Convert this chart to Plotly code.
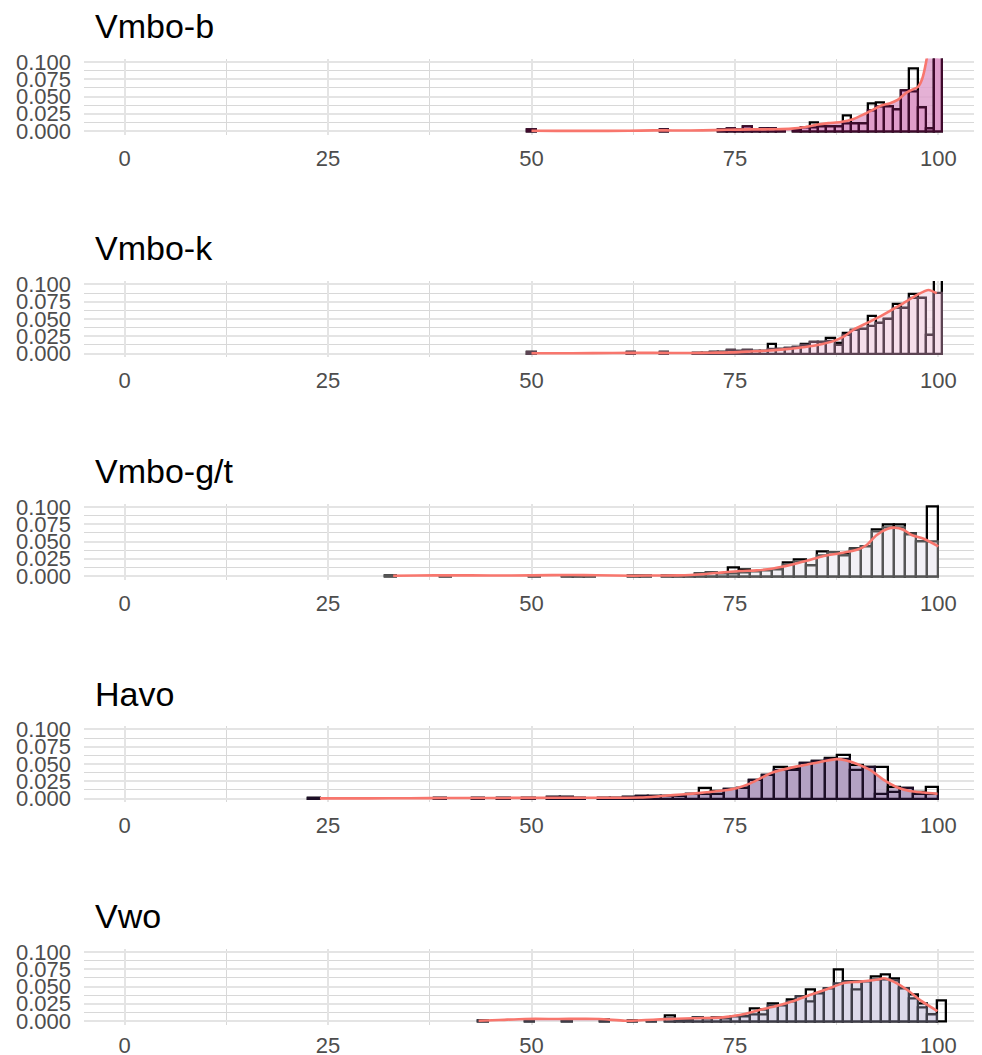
import plotly.graph_objects as go

# ---------------- data ----------------
panel_titles = ["Vmbo-b", "Vmbo-k", "Vmbo-g/t", "Havo", "Vwo"]

# histogram bins: left edge of first bin and bin width, 50 bins each
bin_start = [49.49, 49.49, 32.0, 22.5, 43.45]
bin_width = [1.0204, 1.0204, 1.36, 1.55, 1.15]

vmbo_b_outer = [0.002, 0, 0, 0, 0, 0, 0, 0, 0, 0,
                0, 0, 0, 0, 0, 0, 0.002, 0, 0, 0,
                0, 0, 0, 0.002, 0.004, 0.002, 0.006, 0.002, 0.004, 0.004,
                0.002, 0, 0.002, 0.005, 0.012, 0.006, 0.006, 0.007, 0.022, 0.011,
                0.011, 0.040, 0.041, 0.035, 0.031, 0.058, 0.091, 0.034, 0.004, 0.45]
vmbo_b_inner = [0.002, 0, 0, 0, 0, 0, 0, 0, 0, 0,
                0, 0, 0, 0, 0, 0, 0.002, 0, 0, 0,
                0, 0, 0, 0.002, 0.004, 0.002, 0.006, 0.002, 0.004, 0.004,
                0.002, 0, 0.002, 0.005, 0.005, 0.006, 0.006, 0.007, 0.011, 0.011,
                0.011, 0.030, 0.035, 0.035, 0.031, 0.058, 0.057, 0.034, 0.004, 0.42]
vmbo_b_curve_x = [50, 53, 57, 62, 65, 66.5, 68, 71, 74, 77, 80, 82, 83.5, 85, 86.5, 88,
                  89.5, 91, 92, 93, 94, 95, 96, 96.8, 97.5, 98, 98.5, 99, 100]
vmbo_b_curve_y = [0.0004, 0.0002, 0.0002, 0.0004, 0.0009, 0.001, 0.0008, 0.001, 0.0018,
                  0.0024, 0.0026, 0.0035, 0.0055, 0.009, 0.0115, 0.013, 0.017, 0.025,
                  0.031, 0.037, 0.040, 0.045, 0.055, 0.060, 0.064, 0.075, 0.10, 0.14, 0.25]

vmbo_k_outer = [0.002, 0, 0, 0, 0, 0, 0, 0, 0, 0,
                0, 0, 0.002, 0, 0, 0, 0.002, 0, 0, 0,
                0.0015, 0.0015, 0.002, 0.002, 0.005, 0.003, 0.005, 0.003, 0.003, 0.014,
                0.006, 0.008, 0.010, 0.014, 0.016, 0.017, 0.023, 0.015, 0.030, 0.034,
                0.036, 0.054, 0.044, 0.050, 0.072, 0.066, 0.086, 0.080, 0.027, 0.20]
vmbo_k_inner = [0.002, 0, 0, 0, 0, 0, 0, 0, 0, 0,
                0, 0, 0.002, 0, 0, 0, 0.002, 0, 0, 0,
                0.0015, 0.0015, 0.002, 0.002, 0.005, 0.003, 0.005, 0.003, 0.003, 0.006,
                0.006, 0.008, 0.010, 0.012, 0.016, 0.017, 0.018, 0.013, 0.027, 0.034,
                0.036, 0.040, 0.044, 0.050, 0.066, 0.066, 0.080, 0.080, 0.027, 0.088]
vmbo_k_curve_x = [50, 55, 60, 65, 70, 72, 74.7, 76.5, 78.8, 81, 82.9, 85, 87.1, 88.3,
                  89.5, 91.2, 93.2, 95.3, 97.4, 98.8, 99.8]
vmbo_k_curve_y = [0.0004, 0.0004, 0.0008, 0.001, 0.0008, 0.0012, 0.0017, 0.0028, 0.004,
                  0.006, 0.0085, 0.012, 0.018, 0.024, 0.034, 0.044, 0.056, 0.070, 0.085,
                  0.092, 0.087]

vmbo_gt_outer = [0.0015, 0, 0, 0, 0, 0.0015, 0, 0, 0, 0,
                 0, 0, 0, 0.0015, 0, 0, 0.0015, 0.0015, 0.0015, 0,
                 0, 0, 0.001, 0.0015, 0, 0.0015, 0.0015, 0.0015, 0.003, 0.005,
                 0.004, 0.012, 0.010, 0.007, 0.0087, 0.010, 0.0193, 0.0246, 0.0155, 0.036,
                 0.034, 0.032, 0.040, 0.0425, 0.0676, 0.075, 0.075, 0.062, 0.050, 0.1005]
vmbo_gt_inner = [0.0015, 0, 0, 0, 0, 0.0015, 0, 0, 0, 0,
                 0, 0, 0, 0.0015, 0, 0, 0.0015, 0.0015, 0.0015, 0,
                 0, 0, 0.001, 0.0015, 0, 0.0015, 0.0015, 0.0015, 0.003, 0.005,
                 0.004, 0.004, 0.0045, 0.006, 0.0087, 0.010, 0.016, 0.021, 0.015, 0.030,
                 0.034, 0.030, 0.038, 0.0425, 0.064, 0.070, 0.070, 0.060, 0.050, 0.050]
vmbo_gt_curve_x = [33, 36, 40, 45, 50, 55, 58, 62.5, 65, 68, 69.5, 71.5, 73.6, 75.6, 77.7,
                   79.7, 81.8, 83.8, 85.9, 87.9, 90, 91.2, 92.4, 93.7, 94.7, 95.7, 96.8,
                   98.2, 100]
vmbo_gt_curve_y = [0.0005, 0.0008, 0.001, 0.0008, 0.001, 0.0015, 0.0012, 0.0005, 0.0008,
                   0.001, 0.0015, 0.003, 0.0053, 0.0072, 0.0082, 0.011, 0.016, 0.022,
                   0.029, 0.033, 0.038, 0.045, 0.059, 0.068, 0.070, 0.067, 0.059, 0.054,
                   0.043]

havo_outer = [0.0015, 0, 0, 0, 0, 0, 0, 0, 0, 0,
              0.0015, 0, 0, 0.0015, 0, 0.0015, 0, 0.0015, 0, 0.002,
              0.002, 0.0015, 0, 0.0015, 0.0015, 0.002, 0.003, 0.003, 0.004, 0.0043,
              0.006, 0.015, 0.011, 0.0135, 0.015, 0.027, 0.034, 0.045, 0.044, 0.051,
              0.054, 0.058, 0.063, 0.049, 0.046, 0.045, 0.017, 0.015, 0.010, 0.017]
havo_inner = [0.0015, 0, 0, 0, 0, 0, 0, 0, 0, 0,
              0.0015, 0, 0, 0.0015, 0, 0.0015, 0, 0.0015, 0, 0.002,
              0.002, 0.0015, 0, 0.0015, 0.0015, 0.002, 0.003, 0.003, 0.004, 0.0043,
              0.006, 0.0068, 0.0068, 0.0135, 0.015, 0.027, 0.034, 0.0406, 0.041, 0.051,
              0.054, 0.057, 0.057, 0.042, 0.046, 0.007, 0.010, 0.015, 0.0068, 0.0068]
havo_curve_x = [24, 30, 35, 40, 45, 50, 55, 60, 63.3, 65.4, 67.4, 69.5, 71.5, 73.6, 75.2,
                76.9, 78.1, 79.7, 81.7, 83.8, 85.9, 87.5, 88.7, 90, 91.6, 93.3, 94.9, 96.5,
                98.2, 99.9]
havo_curve_y = [0.0003, 0.0003, 0.0005, 0.0008, 0.0008, 0.001, 0.0012, 0.0012, 0.0015,
                0.003, 0.005, 0.0068, 0.009, 0.0116, 0.015, 0.022, 0.029, 0.038, 0.044,
                0.049, 0.054, 0.057, 0.055, 0.050, 0.0415, 0.027, 0.0164, 0.011, 0.0087,
                0.0068]

vwo_outer = [0.0015, 0, 0, 0, 0, 0.002, 0, 0, 0, 0.002,
             0, 0, 0, 0.002, 0, 0, 0.001, 0, 0.0015, 0,
             0.008, 0.002, 0.002, 0.005, 0.003, 0.005, 0.004, 0.006, 0.007, 0.018,
             0.016, 0.026, 0.023, 0.031, 0.036, 0.045, 0.040, 0.047, 0.075, 0.057,
             0.057, 0.057, 0.064, 0.067, 0.061, 0.047, 0.039, 0.026, 0.0097, 0.030]
vwo_inner = [0.0015, 0, 0, 0, 0, 0.002, 0, 0, 0, 0.002,
             0, 0, 0, 0.002, 0, 0, 0.001, 0, 0.0015, 0,
             0.003, 0.002, 0.002, 0.005, 0.003, 0.005, 0.004, 0.006, 0.007, 0.010,
             0.010, 0.022, 0.023, 0.029, 0.036, 0.029, 0.040, 0.047, 0.055, 0.057,
             0.045, 0.057, 0.060, 0.060, 0.058, 0.047, 0.033, 0.019, 0.0097, 0.0]
vwo_curve_x = [43.5, 46, 49.2, 53.3, 58.3, 61.5, 64, 65.8, 69.8, 73.1, 74, 76, 78, 80.2,
               82.2, 84.3, 86.3, 88.4, 90.4, 92.5, 93.3, 94.5, 96.2, 97.8, 99.9]
vwo_curve_y = [0.0005, 0.0015, 0.003, 0.003, 0.003, 0.0005, 0.0015, 0.0024, 0.004, 0.005,
               0.006, 0.0097, 0.016, 0.022, 0.029, 0.038, 0.046, 0.055, 0.057, 0.060,
               0.062, 0.057, 0.045, 0.030, 0.0145]

x_tick_vals = [0, 25, 50, 75, 100]
x_tick_text = ["0", "25", "50", "75", "100"]
y_tick_vals = [0, 0.025, 0.05, 0.075, 0.1]
y_tick_text = ["0.000", "0.025", "0.050", "0.075", "0.100"]

outers = [vmbo_b_outer, vmbo_k_outer, vmbo_gt_outer, havo_outer, vwo_outer]
inners = [vmbo_b_inner, vmbo_k_inner, vmbo_gt_inner, havo_inner, vwo_inner]
curves_x = [vmbo_b_curve_x, vmbo_k_curve_x, vmbo_gt_curve_x, havo_curve_x, vwo_curve_x]
curves_y = [vmbo_b_curve_y, vmbo_k_curve_y, vmbo_gt_curve_y, havo_curve_y, vwo_curve_y]

# ---------------- styling ----------------
fills = ["#DF9DCA", "#F6DEEB", "#F2F0F5", "#B4A1C3", "#DCD8EA"]
edges = ["#3F0A2C", "#5C4453", "#555555", "#1C0E26", "#3E3C48"]
RED = "#F8766D"
FONT = "Liberation Sans"
TICK_COLOR = "#4D4D4D"

# the page body has an 8px margin: lay out in page pixels minus that offset
OFF = 8
W, H = 982 - OFF, 1055 - OFF
PL, PR = 84 - OFF, 979 - OFF
TOP0, BOT0, STEP = 58.5 - OFF, 134.5 - OFF, 222.5
TITLE_X, TITLE_Y = 93 - OFF, 26 - OFF

fig = go.Figure()
layout_axes = {}
annotations = []
shapes = []

for i in range(5):
    n = "" if i == 0 else str(i + 1)
    xr, yr = "x" + n, "y" + n
    w = bin_width[i]
    centers = [bin_start[i] + (j + 0.5) * w for j in range(len(outers[i]))]
    out_v = [v if v > 0 else None for v in outers[i]]
    in_v = [v if v > 0 else None for v in inners[i]]

    # density area (drawn between grid and traces)
    cx, cy = curves_x[i], curves_y[i]
    path = "M {},0 ".format(cx[0]) + " ".join("L {},{}".format(a, b) for a, b in zip(cx, cy)) \
        + " L {},0 Z".format(cx[-1])
    shapes.append(dict(type="path", path=path, xref=xr, yref=yr, layer="between",
                       fillcolor=fills[i], opacity=0.8, line=dict(width=0)))

    fig.add_trace(go.Bar(x=centers, y=out_v, width=w,
                         marker=dict(color="rgba(0,0,0,0)", line=dict(color="black", width=2.3)),
                         showlegend=False, xaxis=xr, yaxis=yr))
    fig.add_trace(go.Bar(x=centers, y=in_v, width=w,
                         marker=dict(color=fills[i], line=dict(color=edges[i], width=2.3)),
                         showlegend=False, xaxis=xr, yaxis=yr))
    fig.add_trace(go.Scatter(x=cx, y=cy, mode="lines",
                             line=dict(color=RED, width=2.6, shape="spline", smoothing=0.7),
                             showlegend=False, xaxis=xr, yaxis=yr))

    top = TOP0 + STEP * i
    bot = BOT0 + STEP * i
    ydom = [1 - bot / H, 1 - top / H]
    layout_axes["xaxis" + n] = dict(
        domain=[PL / W, PR / W], range=[-5, 105], anchor=yr, automargin=False,
        tickmode="array", tickvals=x_tick_vals, ticktext=x_tick_text,
        showgrid=True, gridcolor="#E4E4E4", gridwidth=1.6,
        minor=dict(dtick=12.5, tick0=0, showgrid=True, gridcolor="#D8D8D8", gridwidth=0.8),
        zeroline=False, showline=False, ticks="", ticklabelstandoff=(8 if i < 4 else 5),
        tickfont=dict(family=FONT, size=22, color=TICK_COLOR), fixedrange=True)
    layout_axes["yaxis" + n] = dict(
        domain=ydom, range=[-0.005, 0.105], anchor=xr, automargin=False,
        tickmode="array", tickvals=y_tick_vals, ticktext=y_tick_text,
        showgrid=True, gridcolor="#E4E4E4", gridwidth=1.6,
        minor=dict(dtick=0.0125, tick0=0, showgrid=True, gridcolor="#D8D8D8", gridwidth=0.8),
        zeroline=False, showline=False, ticks="", ticklabelstandoff=12,
        tickfont=dict(family=FONT, size=22, color=TICK_COLOR), fixedrange=True)
    annotations.append(dict(
        text=panel_titles[i], xref="paper", yref="paper",
        x=TITLE_X / W, y=1 - (TITLE_Y + STEP * i) / H, xanchor="left", yanchor="middle",
        showarrow=False, font=dict(family=FONT, size=34, color="black")))

fig.update_layout(
    template="none",
    width=W, height=H, margin=dict(l=0, r=0, t=0, b=0, pad=0, autoexpand=False),
    paper_bgcolor="white", plot_bgcolor="white",
    barmode="overlay", bargap=0, showlegend=False,
    annotations=annotations, shapes=shapes, **layout_axes)

fig.write_html("out.html")
